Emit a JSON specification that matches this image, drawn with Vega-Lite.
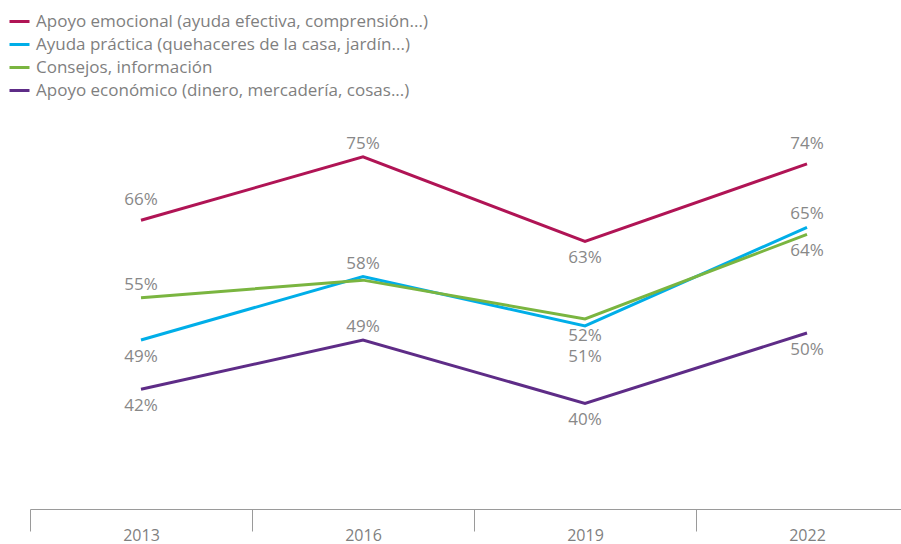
{
  "$schema": "https://vega.github.io/schema/vega-lite/v6.json",
  "autosize": "none",
  "width": 871,
  "height": 507,
  "padding": {"left": 30, "top": 2, "right": 0, "bottom": 35},
  "background": "white",
  "config": {
    "view": {"stroke": null},
    "font": "Open Sans"
  },
  "data": {
    "values": [
      {"serie": "Apoyo emocional (ayuda efectiva, comprensión...)", "anio": "2013", "valor": 66},
      {"serie": "Apoyo emocional (ayuda efectiva, comprensión...)", "anio": "2016", "valor": 75},
      {"serie": "Apoyo emocional (ayuda efectiva, comprensión...)", "anio": "2019", "valor": 63},
      {"serie": "Apoyo emocional (ayuda efectiva, comprensión...)", "anio": "2022", "valor": 74},
      {"serie": "Ayuda práctica (quehaceres de la casa, jardín...)", "anio": "2013", "valor": 49},
      {"serie": "Ayuda práctica (quehaceres de la casa, jardín...)", "anio": "2016", "valor": 58},
      {"serie": "Ayuda práctica (quehaceres de la casa, jardín...)", "anio": "2019", "valor": 51},
      {"serie": "Ayuda práctica (quehaceres de la casa, jardín...)", "anio": "2022", "valor": 65},
      {"serie": "Consejos, información", "anio": "2013", "valor": 55},
      {"serie": "Consejos, información", "anio": "2016", "valor": 57.5},
      {"serie": "Consejos, información", "anio": "2019", "valor": 52},
      {"serie": "Consejos, información", "anio": "2022", "valor": 64},
      {"serie": "Apoyo económico (dinero, mercadería, cosas...)", "anio": "2013", "valor": 42},
      {"serie": "Apoyo económico (dinero, mercadería, cosas...)", "anio": "2016", "valor": 49},
      {"serie": "Apoyo económico (dinero, mercadería, cosas...)", "anio": "2019", "valor": 40},
      {"serie": "Apoyo económico (dinero, mercadería, cosas...)", "anio": "2022", "valor": 50}
    ]
  },
  "transform": [{"calculate": "format(datum.valor, '.0f') + '%'", "as": "etiqueta"}],
  "encoding": {
    "x": {
      "field": "anio", "type": "ordinal", "title": null,
      "scale": {"range": [0, 888], "paddingInner": 0, "paddingOuter": 0},
      "axis": {
        "orient": "bottom", "tickBand": "extent", "tickSize": 22, "domainColor": "#9a9a9a",
        "tickColor": "#9a9a9a", "domainWidth": 1, "tickWidth": 1, "labelAngle": 0,
        "labelColor": "#7f7f7f", "labelFontSize": 16, "labelBaseline": "middle", "labelPadding": 4,
        "grid": false
      }
    },
    "y": {
      "field": "valor", "type": "quantitative", "title": null,
      "scale": {"domain": [25, 97], "zero": false, "nice": false},
      "axis": null
    }
  },
  "layer": [
    {
      "mark": {"type": "line", "strokeWidth": 3},
      "encoding": {
        "color": {
          "field": "serie", "type": "nominal",
          "scale": {
            "domain": [
              "Apoyo emocional (ayuda efectiva, comprensión...)",
              "Ayuda práctica (quehaceres de la casa, jardín...)",
              "Consejos, información",
              "Apoyo económico (dinero, mercadería, cosas...)"
            ],
            "range": ["#b01455", "#00aee8", "#7ab540", "#5e2c87"]
          },
          "legend": {
            "orient": "none", "legendX": -22, "legendY": 8, "title": null,
            "symbolType": "stroke", "symbolSize": 400, "symbolStrokeWidth": 3,
            "labelFontSize": 17, "labelColor": "#7f7f7f", "labelOffset": 5,
            "rowPadding": 3, "labelLimit": 600
          }
        }
      }
    },
    {
      "transform": [{"filter": "(datum.serie == 'Apoyo emocional (ayuda efectiva, comprensión...)' && datum.anio == '2016') || (datum.serie == 'Ayuda práctica (quehaceres de la casa, jardín...)' && (datum.anio == '2016' || datum.anio == '2022')) || (datum.serie == 'Consejos, información' && datum.anio == '2013') || (datum.serie == 'Apoyo económico (dinero, mercadería, cosas...)' && datum.anio == '2016')"}],
      "mark": {"type": "text", "dy": -13, "fontSize": 17, "color": "#888888", "baseline": "middle"},
      "encoding": {"text": {"field": "etiqueta", "type": "nominal"}}
    },
    {
      "transform": [{"filter": "datum.serie == 'Apoyo emocional (ayuda efectiva, comprensión...)' && (datum.anio == '2013' || datum.anio == '2022')"}],
      "mark": {"type": "text", "dy": -20, "fontSize": 17, "color": "#888888", "baseline": "middle"},
      "encoding": {"text": {"field": "etiqueta", "type": "nominal"}}
    },
    {
      "transform": [{"filter": "(datum.serie == 'Apoyo emocional (ayuda efectiva, comprensión...)' && datum.anio == '2019') || (datum.serie == 'Ayuda práctica (quehaceres de la casa, jardín...)' && datum.anio == '2013') || (datum.serie == 'Consejos, información' && (datum.anio == '2019' || datum.anio == '2022')) || (datum.serie == 'Apoyo económico (dinero, mercadería, cosas...)' && datum.anio != '2016')"}],
      "mark": {"type": "text", "dy": 17, "fontSize": 17, "color": "#888888", "baseline": "middle"},
      "encoding": {"text": {"field": "etiqueta", "type": "nominal"}}
    },
    {
      "transform": [{"filter": "datum.serie == 'Ayuda práctica (quehaceres de la casa, jardín...)' && datum.anio == '2019'"}],
      "mark": {"type": "text", "dy": 31, "fontSize": 17, "color": "#888888", "baseline": "middle"},
      "encoding": {"text": {"field": "etiqueta", "type": "nominal"}}
    }
  ]
}
